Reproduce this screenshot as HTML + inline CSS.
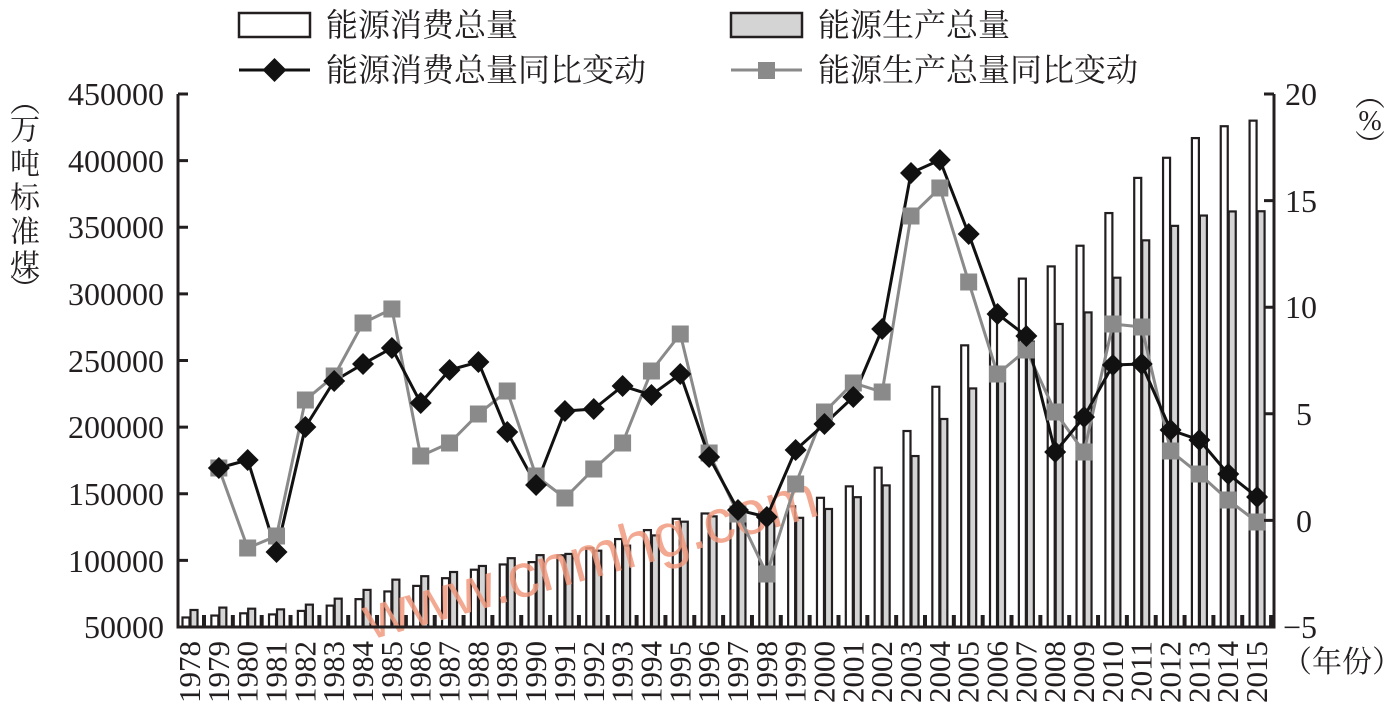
<!DOCTYPE html>
<html><head><meta charset="utf-8"><style>
html,body{margin:0;padding:0;background:#fff}
svg{display:block}
text{font-family:"Liberation Serif","Noto Serif CJK SC",serif;fill:#231f20}
.cj{font-family:"Liberation Serif","Noto Serif CJK SC","Noto Sans CJK SC",serif}
</style></head><body>
<svg id="s" width="1395" height="713" viewBox="0 0 1395 713" xmlns="http://www.w3.org/2000/svg">
<g id="bars"></g>
<text x="370" y="640" transform="rotate(-15.5 370 640)" font-size="62" style="fill:#f19a7e;font-family:'Liberation Sans',sans-serif" opacity="0.85">www.cnmhg.com</text>
<g id="lines"></g>
<g stroke="#231f20" stroke-width="3" fill="none">
<path d="M178,94 V627 H1274 V94"/>
<path d="M178,94 h10 M178,160.6 h10 M178,227.3 h10 M178,293.9 h10 M178,360.5 h10 M178,427.1 h10 M178,493.8 h10 M178,560.4 h10"/>
<path d="M1274,94 h-10 M1274,200.6 h-10 M1274,307.2 h-10 M1274,413.8 h-10 M1274,520.4 h-10"/>
</g>
<g font-size="32" text-anchor="end">
<text x="164" y="105">450000</text>
<text x="164" y="172">400000</text>
<text x="164" y="238">350000</text>
<text x="164" y="305">300000</text>
<text x="164" y="372">250000</text>
<text x="164" y="438">200000</text>
<text x="164" y="505">150000</text>
<text x="164" y="572">100000</text>
<text x="164" y="638">50000</text>
</g>
<g font-size="32">
<text x="1285" y="105">20</text>
<text x="1285" y="212">15</text>
<text x="1285" y="318">10</text>
<text x="1296" y="425">5</text>
<text x="1296" y="532">0</text>
<text x="1283" y="638">−5</text>
</g>
<g font-size="30" class="cj" text-anchor="middle">
<text x="25" y="112">︵</text>
<text x="25" y="140">万</text>
<text x="25" y="174">吨</text>
<text x="25" y="208">标</text>
<text x="25" y="242">准</text>
<text x="25" y="276">煤</text>
<text x="25" y="300">︶</text>
<text x="1370" y="106">︵</text>
<text x="1370" y="130" font-size="28">%</text>
<text x="1370" y="156">︶</text>
</g>
<text x="1282" y="672" font-size="30" class="cj">（年份）</text>
<g font-size="31" text-anchor="end">
<text transform="translate(200,641) rotate(-90)">1978</text>
<text transform="translate(228.8,641) rotate(-90)">1979</text>
<text transform="translate(257.7,641) rotate(-90)">1980</text>
<text transform="translate(286.5,641) rotate(-90)">1981</text>
<text transform="translate(315.4,641) rotate(-90)">1982</text>
<text transform="translate(344.2,641) rotate(-90)">1983</text>
<text transform="translate(373,641) rotate(-90)">1984</text>
<text transform="translate(401.9,641) rotate(-90)">1985</text>
<text transform="translate(430.7,641) rotate(-90)">1986</text>
<text transform="translate(459.6,641) rotate(-90)">1987</text>
<text transform="translate(488.4,641) rotate(-90)">1988</text>
<text transform="translate(517.2,641) rotate(-90)">1989</text>
<text transform="translate(546.1,641) rotate(-90)">1990</text>
<text transform="translate(574.9,641) rotate(-90)">1991</text>
<text transform="translate(603.8,641) rotate(-90)">1992</text>
<text transform="translate(632.6,641) rotate(-90)">1993</text>
<text transform="translate(661.4,641) rotate(-90)">1994</text>
<text transform="translate(690.3,641) rotate(-90)">1995</text>
<text transform="translate(719.1,641) rotate(-90)">1996</text>
<text transform="translate(748,641) rotate(-90)">1997</text>
<text transform="translate(776.8,641) rotate(-90)">1998</text>
<text transform="translate(805.6,641) rotate(-90)">1999</text>
<text transform="translate(834.5,641) rotate(-90)">2000</text>
<text transform="translate(863.3,641) rotate(-90)">2001</text>
<text transform="translate(892.2,641) rotate(-90)">2002</text>
<text transform="translate(921,641) rotate(-90)">2003</text>
<text transform="translate(949.8,641) rotate(-90)">2004</text>
<text transform="translate(978.7,641) rotate(-90)">2005</text>
<text transform="translate(1007.5,641) rotate(-90)">2006</text>
<text transform="translate(1036.4,641) rotate(-90)">2007</text>
<text transform="translate(1065.2,641) rotate(-90)">2008</text>
<text transform="translate(1094,641) rotate(-90)">2009</text>
<text transform="translate(1122.9,641) rotate(-90)">2010</text>
<text transform="translate(1151.7,641) rotate(-90)">2011</text>
<text transform="translate(1180.6,641) rotate(-90)">2012</text>
<text transform="translate(1209.4,641) rotate(-90)">2013</text>
<text transform="translate(1238.2,641) rotate(-90)">2014</text>
<text transform="translate(1267.1,641) rotate(-90)">2015</text>
</g>
<rect x="239" y="13" width="71" height="24" fill="#fff" stroke="#231f20" stroke-width="2.5"/>
<rect x="731" y="13" width="71" height="24" fill="#d4d4d4" stroke="#231f20" stroke-width="2.5"/>
<path d="M239,70 H310" stroke="#111" stroke-width="3"/>
<path d="M274.5,58 l12,12 l-12,12 l-12,-12z" fill="#111"/>
<path d="M731,70 H802" stroke="#8a8a8a" stroke-width="3"/>
<rect x="758" y="62" width="17" height="17" fill="#8a8a8a"/>
<g font-size="32" class="cj">
<text x="326" y="36">能源消费总量</text>
<text x="818" y="36">能源生产总量</text>
<text x="326" y="81">能源消费总量同比变动</text>
<text x="818" y="81">能源生产总量同比变动</text>
</g>
</svg>
<script>
var ns="http://www.w3.org/2000/svg";
var cons=[57144,58588,60275,59447,62067,66040,70904,76682,80850,86632,92997,96934,98703,103783,109170,115993,122737,131176,135192,135909,136184,140569,146964,155547,169577,197083,230281,261369,286467,311442,320611,336126,360648,387043,402138,416913,425806,430000];
var prod=[62770,64562,63735,63227,66778,71270,77855,85546,88124,91266,95801,101639,103922,104844,107256,111059,118729,129034,133032,133460,129834,131935,138570,147425,156277,178299,206108,229037,244763,264173,277419,286092,312125,340178,351041,358784,361866,362000];
var cy=[null,468,460,552,427,381,364,348,403,370,362,432,485,411,409,386,395,374,457,510,517,450,424,397,329,173,160,234,314,336,452,417,365,364,430,440,474,497];
var py=[null,468,548,536,400,376,323,309,456,443,414,391,476,498,469,443,371,334,453,514,574,484,412,383,392,216,188,282,374,350,412,452,324,327,451,474,500,522];
var w=28.84,x0=178;
function Y(v){return 627-(v-50000)*533/400000;}
function el(t,a,p){var e=document.createElementNS(ns,t);for(var k in a)e.setAttribute(k,a[k]);p.appendChild(e);return e;}
var B=document.getElementById('bars'),L=document.getElementById('lines');
for(var i=0;i<38;i++){var s=x0+w*i;
el('rect',{x:s+4.5,y:Y(cons[i]),width:7,height:627-Y(cons[i]),fill:'#fff',stroke:'#231f20','stroke-width':2.2},B);
el('rect',{x:s+12.5,y:Y(prod[i]),width:7,height:627-Y(prod[i]),fill:'#d4d4d4',stroke:'#231f20','stroke-width':2.2},B);
el('rect',{x:s+24,y:615,width:4,height:12,fill:'#231f20'},B);}
function pts(a){var r=[];for(var i=1;i<38;i++)r.push((x0+w*i+12).toFixed(1)+','+a[i]);return r.join(' ');}
el('polyline',{points:pts(py),fill:'none',stroke:'#8a8a8a','stroke-width':3},L);
el('polyline',{points:pts(cy),fill:'none',stroke:'#111','stroke-width':3},L);
for(var i=1;i<38;i++){var x=x0+w*i+12;
el('rect',{x:x-8.5,y:py[i]-8.5,width:17,height:17,fill:'#8a8a8a'},L);}
for(var i=1;i<38;i++){var x=x0+w*i+12,y=cy[i];
el('path',{d:'M'+x+','+(y-11)+' l11,11 l-11,11 l-11,-11z',fill:'#111'},L);}
</script>
</body></html>
